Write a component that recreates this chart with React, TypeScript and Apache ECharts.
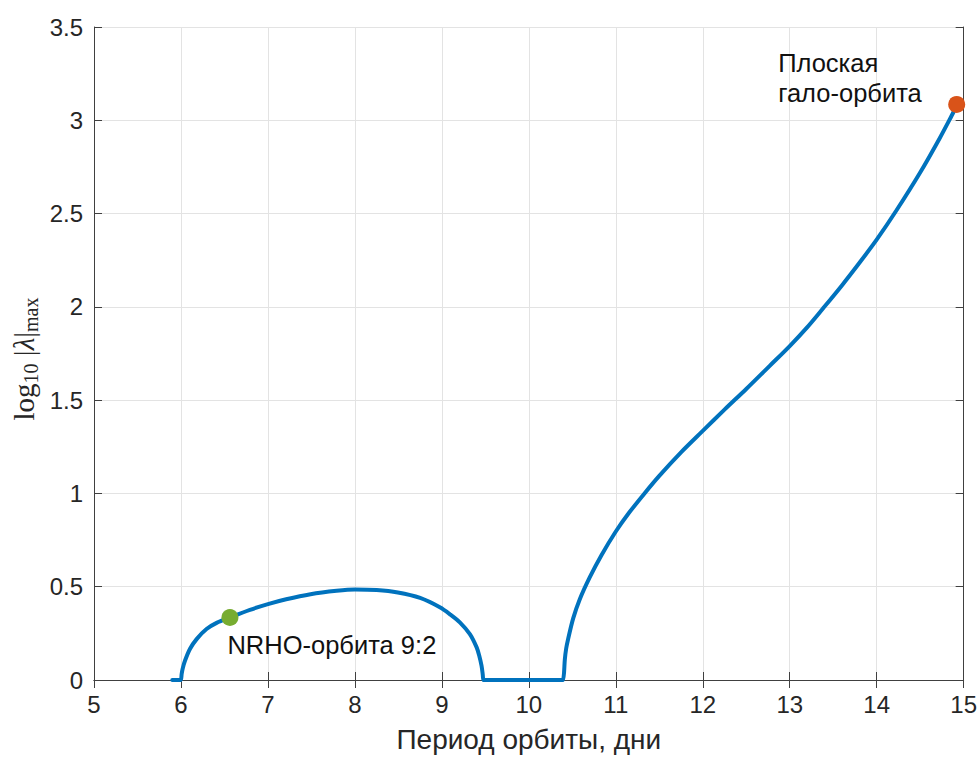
import React, { useEffect, useRef } from "react";
import * as echarts from "echarts";

// Orbit period (days) and log10 of max eigenvalue modulus
const periodDays = [
  5.9, 5.99, 5.996, 6.0, 6.008, 6.02, 6.046, 6.103, 6.18, 6.294, 6.41, 6.563, 6.793, 7.0, 7.21,
  7.49, 7.79, 8.0, 8.25, 8.494, 8.75, 8.977, 9.1, 9.207, 9.322, 9.4, 9.43, 9.456, 9.47, 9.477,
  9.485, 9.6, 10.3, 10.395, 10.402, 10.405, 10.414, 10.43, 10.452, 10.51, 10.586, 10.7,
  10.835, 11.0, 11.15, 11.33, 11.5, 11.75, 12.0, 12.25, 12.5, 12.77, 13.0, 13.2, 13.38, 13.6,
  13.8, 14.0, 14.23, 14.5, 14.72, 14.86, 14.92,
];
const logLambdaMax = [
  0, 0, 0, 0, 0.032, 0.062, 0.103, 0.166, 0.219, 0.273, 0.306, 0.335, 0.376, 0.407, 0.433,
  0.46, 0.478, 0.485, 0.482, 0.469, 0.44, 0.39, 0.35, 0.309, 0.246, 0.175, 0.13, 0.077, 0.03,
  0, 0, 0, 0, 0, 0, 0.04, 0.11, 0.17, 0.22, 0.33, 0.433, 0.55, 0.669, 0.796, 0.895, 1.0, 1.094,
  1.22, 1.335, 1.449, 1.56, 1.684, 1.79, 1.89, 1.99, 2.115, 2.235, 2.36, 2.519, 2.72, 2.9,
  3.023, 3.078,
];

// Highlighted orbits
const markerLabels = ["NRHO-орбита 9:2", "Плоская\nгало-орбита"];
const markerPeriods = [6.563, 14.92];
const markerValues = [0.335, 3.085];

const xTitle = "Период орбиты, дни";

export default function App() {
  const ref = useRef<HTMLDivElement>(null);

  useEffect(() => {
    if (!ref.current) return;
    const chart = echarts.init(ref.current, null, { renderer: "svg" });
    const axisColor = "#262626";
    const lineColor = "#404040";
    const gridColor = "#e3e3e3";
    const font = "'Liberation Sans', Arial, sans-serif";
    const serif = "'Liberation Serif', 'Times New Roman', serif";
    const markerColors = ["#77AC30", "#D95319"];
    const labelPos: any[] = [
      { position: [6, 36], align: "left", verticalAlign: "middle" },
      { position: [-170, -48], align: "left", verticalAlign: "top" },
    ];

    const lineData = periodDays.map((p, i) => [p, logLambdaMax[i]]);
    const markerData = markerPeriods.map((p, i) => ({
      value: [p, markerValues[i]],
      name: markerLabels[i],
      itemStyle: { color: markerColors[i], opacity: 1 },
      label: {
        show: true,
        formatter: markerLabels[i],
        color: "#111",
        fontSize: 25.5,
        fontFamily: font,
        lineHeight: 30,
        ...labelPos[i],
      },
    }));

    const baseX = {
      type: "value" as const,
      min: 5,
      max: 15,
      interval: 1,
      axisLine: { show: true, lineStyle: { color: lineColor, width: 1 } },
      axisTick: { show: true, inside: true, length: 8, lineStyle: { color: lineColor } },
    };
    const baseY = {
      type: "value" as const,
      min: 0,
      max: 3.5,
      interval: 0.5,
      axisLine: { show: true, lineStyle: { color: lineColor, width: 1 } },
      axisTick: { show: true, inside: true, length: 8, lineStyle: { color: lineColor } },
    };

    chart.setOption({
      animation: false,
      backgroundColor: "#ffffff",
      grid: { left: 94, right: 16, top: 27, bottom: 77, containLabel: false },
      xAxis: [
        {
          ...baseX,
          position: "bottom",
          splitLine: { show: true, lineStyle: { color: gridColor, width: 1 } },
          axisLabel: { color: axisColor, fontSize: 24, fontFamily: font, margin: 12 },
          name: xTitle,
          nameLocation: "middle",
          nameGap: 45,
          nameTextStyle: { color: axisColor, fontSize: 28, fontFamily: font },
        },
        {
          ...baseX,
          position: "top",
          splitLine: { show: false },
          axisLabel: { show: false },
        },
      ],
      yAxis: [
        {
          ...baseY,
          position: "left",
          splitLine: { show: true, lineStyle: { color: gridColor, width: 1 } },
          axisLabel: { color: axisColor, fontSize: 24, fontFamily: font, margin: 11 },
        },
        {
          ...baseY,
          position: "right",
          splitLine: { show: false },
          axisLabel: { show: false },
        },
      ],
      graphic: [
        {
          type: "text",
          x: 24,
          y: 359,
          rotation: Math.PI / 2,
          style: {
            text: "{m|log}{s|10}{m| |}{i|λ}{m||}{s|max}",
            align: "center",
            verticalAlign: "middle",
            fill: axisColor,
            rich: {
              m: { fontFamily: serif, fontSize: 29, lineHeight: 34, verticalAlign: "middle", fill: axisColor },
              i: {
                fontFamily: serif,
                fontSize: 29,
                fontStyle: "italic",
                lineHeight: 34,
                verticalAlign: "middle",
                fill: axisColor,
              },
              s: { fontFamily: serif, fontSize: 20, lineHeight: 20, verticalAlign: "bottom", fill: axisColor },
            },
          },
        },
      ],
      series: [
        {
          type: "line",
          xAxisIndex: 0,
          yAxisIndex: 0,
          data: lineData,
          showSymbol: false,
          smooth: 0.3,
          lineStyle: { color: "#0072BD", width: 4, cap: "round", join: "round" },
          z: 2,
        },
        {
          type: "scatter",
          xAxisIndex: 0,
          yAxisIndex: 0,
          data: markerData,
          symbol: "circle",
          symbolSize: 17,
          z: 3,
        },
      ],
    });
    return () => chart.dispose();
  }, []);

  return (
    <div
      ref={ref}
      style={{ position: "absolute", left: 0, top: 0, width: 980, height: 758 }}
    />
  );
}
